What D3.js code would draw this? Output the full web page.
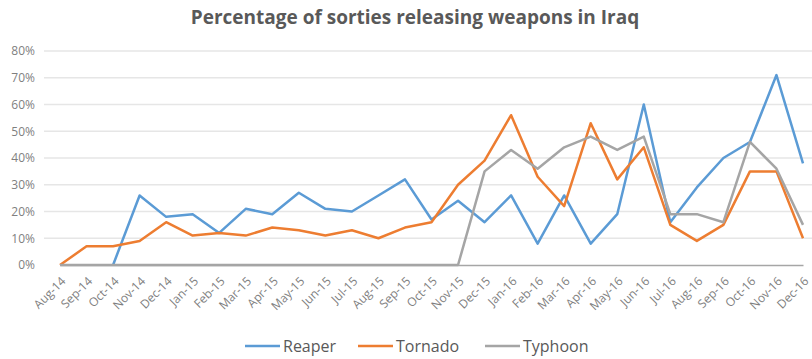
<!DOCTYPE html>
<html>
<head>
<meta charset="utf-8">
<script src="https://cdn.jsdelivr.net/npm/d3@7"></script>
<style>
  html, body { margin: 0; padding: 0; background: #fff; }
  svg { display: block; }
</style>
</head>
<body>
<svg id="chart" width="812" height="359"></svg>
<script>
const months = ["Aug-14","Sep-14","Oct-14","Nov-14","Dec-14","Jan-15","Feb-15","Mar-15","Apr-15","May-15","Jun-15","Jul-15","Aug-15","Sep-15","Oct-15","Nov-15","Dec-15","Jan-16","Feb-16","Mar-16","Apr-16","May-16","Jun-16","Jul-16","Aug-16","Sep-16","Oct-16","Nov-16","Dec-16"];
const reaper  = [null,null,0,26,18,19,12,21,19,27,21,20,26,32,17,24,16,26,8,26,8,19,60,16,29,40,46,71,38];
const tornado = [0,7,7,9,16,11,12,11,14,13,11,13,10,14,16,30,39,56,33,22,53,32,44,15,9,15,35,35,10];
const typhoon = [0,0,0,0,0,0,0,0,0,0,0,0,0,0,0,0,35,43,36,44,48,43,48,19,19,16,46,36,15];
const yTicks = [0,10,20,30,40,50,60,70,80];
const seriesNames = ["Reaper","Tornado","Typhoon"];
const seriesColors = ["#5B9BD5","#ED7D31","#A5A5A5"];
const title = "Percentage of sorties releasing weapons in Iraq";

const svg = d3.select("#chart");
const font = "'Open Sans', 'Liberation Sans', sans-serif";

const x = d3.scalePoint().domain(months).range([60, 803]);
const y = d3.scaleLinear().domain([0, 80]).range([265, 51]);

// gridlines
svg.append("g").selectAll("line").data(yTicks.filter(d => d > 0)).join("line")
  .attr("x1", 44).attr("x2", 812)
  .attr("y1", d => y(d)).attr("y2", d => y(d))
  .attr("stroke", "#e6e6e6").attr("stroke-width", 1.3);

// y axis labels
const yAxis = d3.axisLeft(y).tickValues(yTicks).tickFormat(d => d + "%").tickSize(0).tickPadding(0);
const gy = svg.append("g").attr("transform", "translate(35,0)").call(yAxis);
gy.select(".domain").remove();
gy.selectAll("text").attr("font-family", font).attr("font-size", 12).attr("fill", "#7f7f7f");

// x axis
const xAxis = d3.axisBottom(x).tickSize(0).tickPadding(0);
const gx = svg.append("g").attr("transform", "translate(0,265)").call(xAxis);
gx.select(".domain").attr("stroke", "#a6a6a6").attr("stroke-width", 1.3);
gx.selectAll("text")
  .attr("font-family", font).attr("font-size", 12).attr("fill", "#7f7f7f")
  .attr("text-anchor", "end")
  .attr("dy", "0.35em").attr("y", 0)
  .attr("transform", "translate(3,14) rotate(-45)");

// lines
const data = [reaper, tornado, typhoon];
const line = d3.line()
  .defined(d => d.v !== null)
  .x(d => x(d.m)).y(d => y(d.v));
data.forEach((arr, i) => {
  svg.append("path")
    .datum(arr.map((v, j) => ({ m: months[j], v })))
    .attr("fill", "none")
    .attr("stroke", seriesColors[i])
    .attr("stroke-width", 2.5)
    .attr("stroke-linejoin", "round")
    .attr("d", line);
});

// title
svg.append("text")
  .attr("x", 415).attr("y", 24)
  .attr("text-anchor", "middle")
  .attr("font-family", font).attr("font-weight", "bold").attr("font-size", 19)
  .attr("fill", "#595959")
  .text(title);

// legend
const legendX = [245, 358, 485];
const lg = svg.append("g");
seriesNames.forEach((n, i) => {
  lg.append("line")
    .attr("x1", legendX[i]).attr("x2", legendX[i] + 35)
    .attr("y1", 346).attr("y2", 346)
    .attr("stroke", seriesColors[i]).attr("stroke-width", 2.5);
  lg.append("text")
    .attr("x", legendX[i] + 38).attr("y", 346).attr("dy", "0.35em")
    .attr("font-family", font).attr("font-size", 16).attr("fill", "#595959")
    .text(n);
});
</script>
</body>
</html>
